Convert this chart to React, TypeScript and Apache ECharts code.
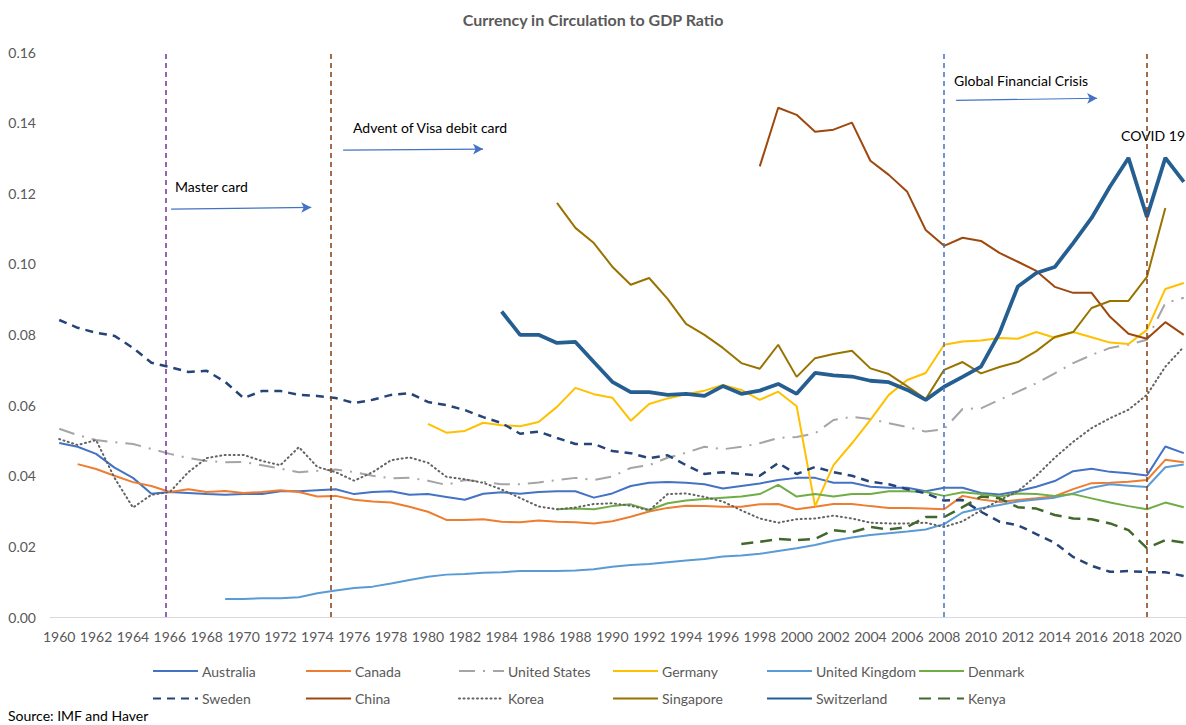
import React, { useEffect, useRef } from "react";
import * as echarts from "echarts";

const pad = (n: number) => Array(n).fill(null);

const years: string[] = [];
for (let y = 1960; y <= 2021; y++) years.push(String(y));

const australia = [
  0.0493, 0.0482, 0.0462, 0.0423, 0.0394, 0.0349, 0.0354, 0.0351, 0.0348, 0.0346,
  0.0348, 0.0348, 0.0356, 0.0356, 0.0359, 0.0362, 0.0348, 0.0354, 0.0356, 0.0346,
  0.0348, 0.034, 0.0332, 0.0349, 0.0353, 0.0349, 0.0354, 0.0356, 0.0356, 0.0338,
  0.035, 0.0371, 0.038, 0.0382, 0.038, 0.0376, 0.0364, 0.0371, 0.0378, 0.0388,
  0.0394, 0.0394, 0.038, 0.038, 0.0369, 0.0366, 0.0366, 0.0356, 0.0366, 0.0366,
  0.0351, 0.0347, 0.0356, 0.0369, 0.0385, 0.0413, 0.042, 0.0411, 0.0407, 0.0401,
  0.0483, 0.0464,
];
const canada = [
  null, 0.0433, 0.0419, 0.04, 0.0382, 0.0371, 0.0354, 0.0362, 0.0354, 0.0357,
  0.0351, 0.0354, 0.0359, 0.0354, 0.0341, 0.0343, 0.0332, 0.0327, 0.0324, 0.0312,
  0.0298, 0.0275, 0.0275, 0.0277, 0.027, 0.0268, 0.0273, 0.027, 0.0268, 0.0265,
  0.0271, 0.0284, 0.0299, 0.0309, 0.0315, 0.0314, 0.0312, 0.0312, 0.0319, 0.032,
  0.0305, 0.0312, 0.032, 0.032, 0.0314, 0.0309, 0.0309, 0.0307, 0.0305, 0.0343,
  0.0333, 0.0326, 0.0331, 0.0336, 0.0342, 0.0362, 0.0379, 0.038, 0.0383, 0.0388,
  0.0445, 0.0438,
];
const unitedStates = [
  0.0533, 0.0515, 0.0501, 0.0495, 0.049, 0.0476, 0.0462, 0.045, 0.0442, 0.0438,
  0.0439, 0.043, 0.042, 0.041, 0.0414, 0.0418, 0.041, 0.04, 0.0393, 0.0394,
  0.0386, 0.0374, 0.0388, 0.0383, 0.0376, 0.0376, 0.0381, 0.0388, 0.0394, 0.0388,
  0.0398, 0.0422, 0.043, 0.0451, 0.0465, 0.0482, 0.0475, 0.0482, 0.0492, 0.0507,
  0.051, 0.052, 0.0558, 0.0567, 0.0561, 0.0549, 0.0538, 0.0525, 0.0532, 0.0589,
  0.0591, 0.0615, 0.0638, 0.0662, 0.069, 0.0719, 0.0742, 0.0762, 0.0771, 0.0785,
  0.0889, 0.0904,
];
const germany = [
  ...pad(20),
  0.0547, 0.0522, 0.0527, 0.055, 0.0543, 0.054, 0.0552, 0.0595, 0.0649, 0.0631,
  0.0621, 0.0556, 0.0603, 0.0619, 0.0631, 0.0641, 0.0657, 0.0643, 0.0615, 0.0638,
  0.0597, 0.0314, 0.043, 0.0492, 0.0558, 0.0629, 0.0671, 0.0691, 0.0771, 0.078,
  0.0783, 0.079, 0.0788, 0.0807, 0.0791, 0.0807, 0.0792, 0.0777, 0.0773, 0.0813,
  0.0929, 0.0946,
];
const unitedKingdom = [
  ...pad(9),
  0.0051,
  0.0051, 0.0053, 0.0053, 0.0056, 0.0067, 0.0075, 0.0082, 0.0086, 0.0095, 0.0105,
  0.0114, 0.012, 0.0122, 0.0125, 0.0127, 0.013, 0.013, 0.013, 0.0132, 0.0135,
  0.0142, 0.0147, 0.015, 0.0155, 0.016, 0.0164, 0.0171, 0.0174, 0.0179, 0.0187,
  0.0195, 0.0204, 0.0216, 0.0225, 0.0232, 0.0237, 0.0242, 0.0248, 0.0263, 0.0296,
  0.0308, 0.0317, 0.0327, 0.0333, 0.0338, 0.035, 0.0366, 0.0376, 0.0372, 0.0368,
  0.0424, 0.0432,
];
const denmark = [
  ...pad(27),
  0.0305, 0.0307, 0.0305,
  0.0314, 0.0319, 0.0303, 0.0322, 0.033, 0.0334, 0.0338, 0.0341, 0.0348, 0.0374,
  0.0341, 0.0348, 0.0341, 0.0348, 0.0348, 0.0356, 0.0356, 0.0354, 0.0343, 0.0353,
  0.0348, 0.0341, 0.035, 0.0348, 0.0343, 0.0348, 0.0336, 0.0324, 0.0314, 0.0305,
  0.0324, 0.0311,
];
const sweden = [
  0.0841, 0.0819, 0.0805, 0.0796, 0.0762, 0.072, 0.0708, 0.0694, 0.0697, 0.0666,
  0.062, 0.064, 0.064, 0.0629, 0.0626, 0.062, 0.0606, 0.0615, 0.0629, 0.0634,
  0.0609, 0.06, 0.0586, 0.0566, 0.0549, 0.0519, 0.0525, 0.0507, 0.049, 0.049,
  0.047, 0.0464, 0.045, 0.0458, 0.043, 0.0405, 0.041, 0.0405, 0.04, 0.0436,
  0.0405, 0.0425, 0.041, 0.04, 0.0383, 0.0376, 0.0362, 0.035, 0.033, 0.0331,
  0.0298, 0.027, 0.026, 0.0235, 0.021, 0.017, 0.0145, 0.0128, 0.013, 0.0127,
  0.0127, 0.0116,
];
const china = [
  ...pad(38),
  0.1276, 0.1442,
  0.1422, 0.1374, 0.138, 0.14, 0.1292, 0.1252, 0.1204, 0.1096, 0.1051, 0.1074,
  0.1065, 0.1031, 0.1006, 0.098, 0.0935, 0.0918, 0.0918, 0.085, 0.0802, 0.0788,
  0.0835, 0.0799,
];
const korea = [
  0.0504, 0.0487, 0.0501, 0.0394, 0.031, 0.0346, 0.0354, 0.041, 0.045, 0.0459,
  0.0459, 0.0442, 0.043, 0.0481, 0.0425, 0.041, 0.0386, 0.041, 0.0444, 0.0452,
  0.0437, 0.0397, 0.039, 0.038, 0.0361, 0.0337, 0.0313, 0.0305, 0.031, 0.032,
  0.0322, 0.0315, 0.0302, 0.0348, 0.035, 0.034, 0.0327, 0.0302, 0.0279, 0.0267,
  0.0277, 0.0279, 0.0287, 0.0279, 0.0267, 0.0265, 0.0265, 0.0267, 0.0255, 0.0271,
  0.0302, 0.0331, 0.0356, 0.04, 0.0451, 0.0496, 0.0535, 0.0563, 0.0587, 0.0629,
  0.0709, 0.0765,
];
const singapore = [
  ...pad(27),
  0.1173, 0.1102, 0.1059,
  0.0992, 0.0941, 0.096, 0.0901, 0.083, 0.0799, 0.0762, 0.0719, 0.0703, 0.0771,
  0.068, 0.0733, 0.0745, 0.0754, 0.0704, 0.0688, 0.0653, 0.0617, 0.07, 0.0722,
  0.069, 0.0708, 0.0722, 0.0753, 0.0793, 0.0807, 0.0875, 0.0895, 0.0895, 0.0963,
  0.1158, null,
];
const switzerland = [
  ...pad(24),
  0.0865, 0.0799, 0.0799, 0.0776, 0.0779, 0.0722,
  0.0666, 0.0637, 0.0637, 0.0629, 0.0632, 0.0626, 0.0654, 0.0632, 0.0641, 0.066,
  0.0632, 0.0691, 0.0684, 0.0681, 0.0669, 0.0665, 0.0643, 0.0615, 0.0652, 0.068,
  0.0709, 0.0804, 0.0936, 0.0974, 0.0991, 0.1059, 0.113, 0.1219, 0.13, 0.1133,
  0.13, 0.1232,
];
const kenya = [
  ...pad(37),
  0.0207, 0.0213, 0.0221,
  0.0218, 0.0221, 0.0246, 0.024, 0.0255, 0.0248, 0.0255, 0.0283, 0.0283, 0.0311,
  0.0341, 0.0336, 0.0311, 0.0307, 0.0289, 0.0279, 0.0277, 0.0265, 0.0246, 0.0195,
  0.0218, 0.0211,
];

// event markers (fractional year positions) and arrows
const eventLines = [
  { year: 1965.8, color: "#7030A0" },
  { year: 1974.75, color: "#843C0C" },
  { year: 2008.0, color: "#4472C4" },
  { year: 2019.0, color: "#843C0C" },
];
const eventArrows = [
  { from: [1966.07, 0.1155], to: [1973.67, 0.116] },
  { from: [1975.4, 0.1322], to: [1982.99, 0.1325] },
  { from: [2008.65, 0.1463], to: [2016.3, 0.1469] },
  { from: [2019.4, 0.1335], to: [2021.8, 0.1336] },
];
const eventLabels = [
  { text: "Master card", x: 175, y: 186, align: "left" },
  { text: "Advent of Visa debit card", x: 353, y: 127, align: "left" },
  { text: "Global Financial Crisis", x: 954, y: 80, align: "left" },
  { text: "COVID 19", x: 1185, y: 135, align: "right" },
];

const FONT = "Lato, 'Open Sans', sans-serif";

type S = { name: string; data: (number | null)[]; color: string; width: number; type: any; cap?: string };
const seriesDefs: S[] = [
  { name: "Australia", data: australia, color: "#4472C4", width: 2, type: "solid" },
  { name: "Canada", data: canada, color: "#ED7D31", width: 2, type: "solid" },
  { name: "United States", data: unitedStates, color: "#A5A5A5", width: 2, type: [16, 8, 2, 8] },
  { name: "Germany", data: germany, color: "#FFC000", width: 2, type: "solid" },
  { name: "United Kingdom", data: unitedKingdom, color: "#5B9BD5", width: 2, type: "solid" },
  { name: "Denmark", data: denmark, color: "#70AD47", width: 2, type: "solid" },
  { name: "Sweden", data: sweden, color: "#264478", width: 2.5, type: [8, 6] },
  { name: "China", data: china, color: "#9E480E", width: 2, type: "solid" },
  { name: "Korea", data: korea, color: "#636363", width: 2, type: [1, 3.5], cap: "round" },
  { name: "Singapore", data: singapore, color: "#997300", width: 2, type: "solid" },
  { name: "Switzerland", data: switzerland, color: "#255E91", width: 3.8, type: "solid" },
  { name: "Kenya", data: kenya, color: "#43682B", width: 2.5, type: [12, 7] },
];

const legendCols = [
  { left: 152, names: ["Australia", "Sweden"] },
  { left: 305, names: ["Canada", "China"] },
  { left: 458, names: ["United States", "Korea"] },
  { left: 612, names: ["Germany", "Singapore"] },
  { left: 766, names: ["United Kingdom", "Switzerland"] },
  { left: 918, names: ["Denmark", "Kenya"] },
];

export default function App() {
  const ref = useRef<HTMLDivElement>(null);
  useEffect(() => {
    if (!ref.current) return;
    const chart = echarts.init(ref.current, null, { renderer: "svg" });
    const series: any[] = seriesDefs.map((s) => ({
      name: s.name,
      type: "line",
      data: s.data,
      xAxisIndex: 0,
      yAxisIndex: 0,
      showSymbol: false,
      symbol: "none",
      connectNulls: false,
      color: s.color,
      lineStyle: { color: s.color, width: s.width, type: s.type, cap: s.cap || "butt" },
      emphasis: { disabled: true },
    }));
    series.push({
      type: "line",
      name: "__events",
      xAxisIndex: 1,
      yAxisIndex: 0,
      data: [],
      silent: true,
      markLine: {
        silent: true,
        animation: false,
        symbol: ["none", "none"],
        label: { show: false },
        data: eventLines.map((e) => ({
          xAxis: e.year,
          lineStyle: { color: e.color, width: 1.5, type: [5, 4] },
        })),
      },
    });
    series.push({
      type: "line",
      name: "__arrows",
      xAxisIndex: 1,
      yAxisIndex: 0,
      data: [],
      silent: true,
      color: "#4472C4",
      markLine: {
        silent: true,
        animation: false,
        symbol: ["none", "arrow"],
        symbolSize: 10,
        label: { show: false },
        itemStyle: { color: "#4472C4" },
        lineStyle: { color: "#4472C4", width: 1.2, type: "solid" },
        data: eventArrows.map((a) => [
          { coord: a.from, symbol: "none" },
          { coord: a.to, symbol: "arrow", symbolSize: [8, 10] },
        ]),
      },
    });

    const option: any = {
      animation: false,
      backgroundColor: "#ffffff",
      textStyle: { fontFamily: FONT },
      title: {
        text: "Currency in Circulation to GDP Ratio",
        left: "center",
        top: 11,
        padding: 0,
        textStyle: { fontFamily: FONT, fontSize: 16, fontWeight: "bold", color: "#595959" },
      },
      legend: legendCols.map((c) => ({
        orient: "vertical",
        left: c.left,
        top: 664,
        padding: 0,
        itemWidth: 45,
        itemHeight: 14,
        itemGap: 13.6,
        selectedMode: false,
        data: c.names,
        itemStyle: { opacity: 0 },
        textStyle: { fontFamily: FONT, fontSize: 14, lineHeight: 14, color: "#595959", padding: [0, 0, 0, -1] },
      })),
      grid: {
        left: 50,
        width: 1143,
        top: 52,
        height: 565,
        containLabel: false,
        outerBoundsMode: "none",
      },
      xAxis: [
        {
          type: "category",
          data: years,
          boundaryGap: true,
          axisLine: { show: true, lineStyle: { color: "#D9D9D9", width: 1 } },
          axisTick: { show: false },
          axisLabel: { interval: 1, color: "#595959", fontSize: 14, fontFamily: FONT, margin: 12 },
          splitLine: { show: false },
        },
        {
          type: "value",
          min: 1959.5,
          max: 2021.5,
          show: false,
          splitLine: { show: false },
        },
      ],
      yAxis: {
        type: "value",
        min: 0,
        max: 0.16,
        interval: 0.02,
        axisLine: { show: false },
        axisTick: { show: false },
        splitLine: { show: false },
        axisLabel: {
          color: "#595959",
          fontSize: 14,
          fontFamily: FONT,
          margin: 14,
          formatter: (v: number) => v.toFixed(2),
        },
      },
      graphic: [
        ...eventLabels.map((l) => ({
          type: "text",
          x: l.x,
          y: l.y,
          silent: true,
          style: {
            text: l.text,
            fill: "#000000",
            font: `14px ${FONT}`,
            textAlign: l.align,
            textVerticalAlign: "middle",
          },
        })),
        {
          type: "text",
          x: 8,
          y: 715,
          style: {
            text: "Source: IMF and Haver",
            fill: "#000000",
            font: `14px ${FONT}`,
            textVerticalAlign: "middle",
          },
        },
      ],
      series,
    };
    chart.setOption(option);
    return () => chart.dispose();
  }, []);
  return (
    <div
      ref={ref}
      style={{ position: "fixed", left: 0, top: 0, width: 1186, height: 725, background: "#fff" }}
    />
  );
}
